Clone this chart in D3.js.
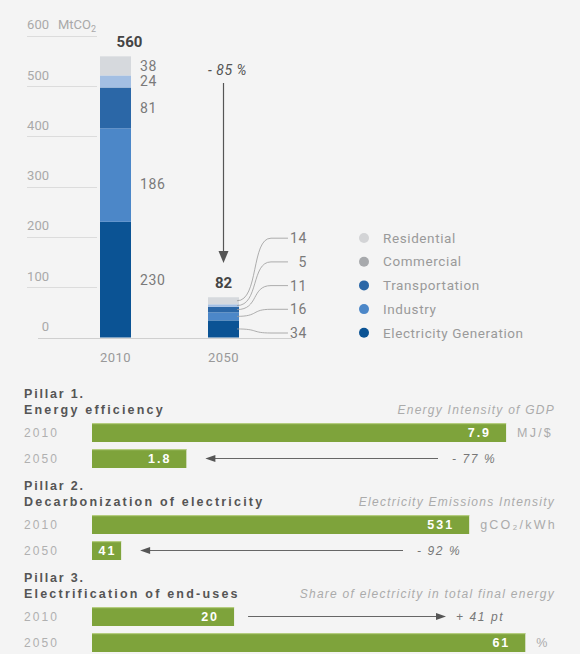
<!DOCTYPE html>
<html>
<head>
<meta charset="utf-8">
<script src="https://cdn.jsdelivr.net/npm/d3@7"></script>
<style>
  html, body { margin: 0; padding: 0; background: #ffffff; }
  svg { display: block; }
</style>
</head>
<body>
<div id="chart"></div>
<script>
// ---- Emissions by sector (MtCO2) ----
const years = ["2010", "2050"];
const sectors = ["Electricity Generation", "Industry", "Transportation", "Commercial", "Residential"];
const emissions2010 = [230, 186, 81, 24, 38];
const emissions2050 = [34, 16, 11, 5, 14];
const totals = [560, 82];
const yTicks = [0, 100, 200, 300, 400, 500, 600];
const reductionLabel = "- 85 %";

// ---- Pillars ----
const pillarTitles = ["Pillar 1.", "Pillar 2.", "Pillar 3."];
const pillarNames = ["Energy efficiency", "Decarbonization of electricity", "Electrification of end-uses"];
const pillarMetrics = ["Energy Intensity of GDP", "Electricity Emissions Intensity", "Share of electricity in total final energy"];
const pillarUnits = ["MJ/$", "gCO\u2082/kWh", "%"];
const pillar2010 = [7.9, 531, 20];
const pillar2050 = [1.8, 41, 61];
const pillarChange = ["- 77 %", "- 92 %", "+ 41 pt"];

const W = 580, H = 654;
const svg = d3.select("#chart").append("svg").attr("width", W).attr("height", H);

// background
svg.append("rect").attr("x", 0).attr("y", 0).attr("width", W).attr("height", H).attr("fill", "#f4f4f4");

const FONT = "Roboto, 'Liberation Sans', sans-serif";
const ARIAL = "'Liberation Sans', Arial, sans-serif";

// ================= Stacked emissions chart =================
const sectorColor = d3.scaleOrdinal().domain(sectors)
  .range(["#0b5394", "#4c87c8", "#2b67a7", "#a3bfe3", "#d6d9dd"]);
const legendColor = d3.scaleOrdinal().domain(sectors)
  .range(["#0b5394", "#4c87c8", "#2b67a7", "#a7a9ac", "#d3d4d6"]);

const y = d3.scaleLinear().domain([0, 600]).range([337.5, 35.7]);
const x = d3.scaleBand().domain(years).range([67.6, 271.4]).paddingInner(0.713).paddingOuter(0.3);

const stackG = svg.append("g");

// gridlines and tick labels
stackG.selectAll("line.grid").data(yTicks.filter(d => d > 0)).join("line")
  .attr("x1", 27).attr("x2", 97)
  .attr("y1", d => Math.round(y(d)) + 0.5).attr("y2", d => Math.round(y(d)) + 0.5)
  .attr("stroke", "#dcdcdc").attr("stroke-width", 1);
stackG.append("line")
  .attr("x1", 38).attr("x2", 292)
  .attr("y1", Math.round(y(0)) + 0.5).attr("y2", Math.round(y(0)) + 0.5)
  .attr("stroke", "#cfcfcf").attr("stroke-width", 1);
stackG.selectAll("text.tick").data(yTicks).join("text")
  .attr("x", 49).attr("y", d => y(d) - 11)
  .attr("dy", "0.35em").attr("text-anchor", "end")
  .attr("font-family", FONT).attr("font-size", 13).attr("fill", "#a9a9a9")
  .text(d => d);
const unit = stackG.append("text").attr("x", 58).attr("y", y(600) - 11).attr("dy", "0.35em")
  .attr("font-family", FONT).attr("font-size", 13).attr("fill", "#a9a9a9");
unit.append("tspan").text("MtCO");
unit.append("tspan").attr("font-size", 9).attr("dy", "0.35em").text("2");

// stacks
const series = [emissions2010, emissions2050];
series.forEach((vals, yi) => {
  let acc = 0;
  const segs = vals.map((v, i) => { const s = { sector: sectors[i], v, y0: acc, y1: acc + v }; acc += v; return s; });
  const g = stackG.append("g");
  g.selectAll("rect").data(segs).join("rect")
    .attr("x", x(years[yi])).attr("width", x.bandwidth())
    .attr("y", d => y(d.y1)).attr("height", d => y(d.y0) - y(d.y1))
    .attr("fill", d => sectorColor(d.sector));
  g.append("text")
    .attr("x", x(years[yi]) + x.bandwidth() / 2 + (yi === 0 ? 14 : 0))
    .attr("y", y(acc) - 15).attr("dy", "0.35em").attr("text-anchor", "middle")
    .attr("font-family", FONT).attr("font-weight", "bold").attr("font-size", 15).attr("fill", "#444")
    .text(totals[yi]);
  g.append("text")
    .attr("x", x(years[yi]) + x.bandwidth() / 2).attr("y", 357).attr("dy", "0.35em")
    .attr("text-anchor", "middle").attr("font-family", FONT).attr("font-size", 13)
    .attr("letter-spacing", 0.5).attr("fill", "#999")
    .text(years[yi]);

  if (yi === 0) {
    g.selectAll("text.val").data(segs).join("text")
      .attr("x", x(years[yi]) + x.bandwidth() + 9)
      .attr("y", d => {
        const mid = (y(d.y0) + y(d.y1)) / 2;
        return d.sector === "Industry" ? mid + 9 : mid;
      })
      .attr("dy", "0.35em")
      .attr("font-family", FONT).attr("font-size", 14).attr("letter-spacing", 0.6).attr("fill", "#7a7a7a")
      .text(d => d.v);
  } else {
    // labels fanned out beside the small stack, linked by leader lines
    const labelY = i => 333 - i * 23.7;
    const bx = x(years[yi]) + x.bandwidth() - 2;
    g.selectAll("path.leader").data(segs).join("path")
      .attr("d", (d, i) => {
        const sy = (y(d.y0) + y(d.y1)) / 2, ly = labelY(i);
        return `M${bx},${sy} C${bx + 22},${sy} ${bx + 14},${ly} ${bx + 34},${ly} L${bx + 51},${ly}`;
      })
      .attr("fill", "none").attr("stroke", "#9a9a9a").attr("stroke-width", 0.8);
    g.selectAll("text.val").data(segs).join("text")
      .attr("x", 307).attr("y", (d, i) => labelY(i)).attr("dy", "0.35em")
      .attr("text-anchor", "end")
      .attr("font-family", FONT).attr("font-size", 14).attr("letter-spacing", 0.6).attr("fill", "#7a7a7a")
      .text(d => d.v);
  }
});

// reduction arrow
const ax = x("2050") + x.bandwidth() / 2;
stackG.append("line").attr("x1", ax).attr("x2", ax).attr("y1", 83).attr("y2", 254)
  .attr("stroke", "#555").attr("stroke-width", 1.2);
stackG.append("path").attr("d", `M${ax - 5},${251} L${ax + 5},${251} L${ax},${263} Z`).attr("fill", "#555");
stackG.append("text").attr("x", ax + 4).attr("y", 70).attr("dy", "0.35em").attr("text-anchor", "middle")
  .attr("font-family", FONT).attr("font-style", "italic").attr("font-size", 14)
  .attr("letter-spacing", 0.5).attr("fill", "#555")
  .text(reductionLabel);

// legend
const leg = stackG.append("g");
const legendOrder = sectors.slice().reverse();
leg.selectAll("circle").data(legendOrder).join("circle")
  .attr("cx", 364).attr("cy", (d, i) => 238 + i * 23.7).attr("r", 5)
  .attr("fill", d => legendColor(d));
leg.selectAll("text").data(legendOrder).join("text")
  .attr("x", 383).attr("y", (d, i) => 238 + i * 23.7).attr("dy", "0.35em")
  .attr("font-family", FONT).attr("font-size", 13.5).attr("letter-spacing", 0.6).attr("fill", "#9a9a9a")
  .text(d => d);

// ================= Pillars =================
const green = "#7ea33b";
const barX0 = 92;
const axisMax = [8.28, 611, 61.1];
const changeX = [452, 417, 456];
const pillarG = svg.append("g");

pillarTitles.forEach((t, p) => {
  const y0 = 394 + p * 92;
  const xs = d3.scaleLinear().domain([0, axisMax[p]]).range([barX0, barX0 + 434]);
  const g = pillarG.append("g");

  g.append("text").attr("x", 24).attr("y", y0).attr("dy", "0.35em")
    .attr("font-family", ARIAL).attr("font-weight", "bold").attr("font-size", 12.5)
    .attr("letter-spacing", 1.8).attr("fill", "#555").text(t);
  g.append("text").attr("x", 24).attr("y", y0 + 16).attr("dy", "0.35em")
    .attr("font-family", ARIAL).attr("font-weight", "bold").attr("font-size", 12.5)
    .attr("letter-spacing", 2.2).attr("fill", "#555").text(pillarNames[p]);
  g.append("text").attr("x", 555).attr("y", y0 + 16).attr("dy", "0.35em").attr("text-anchor", "end")
    .attr("font-family", ARIAL).attr("font-style", "italic").attr("font-size", 12)
    .attr("letter-spacing", 1.25).attr("fill", "#ababab").text(pillarMetrics[p]);

  const rows = [
    { year: "2010", v: pillar2010[p], cy: y0 + 38.5 },
    { year: "2050", v: pillar2050[p], cy: y0 + 64.5 }
  ];
  rows.forEach(r => {
    g.append("text").attr("x", 24).attr("y", r.cy).attr("dy", "0.35em")
      .attr("font-family", ARIAL).attr("font-size", 12).attr("letter-spacing", 2.1)
      .attr("fill", "#b0b0b0").text(r.year);
    const w = xs(r.v) - barX0;
    g.append("rect").attr("x", barX0).attr("y", r.cy - 9.5).attr("width", w).attr("height", 19)
      .attr("fill", green);
    g.append("rect").attr("x", barX0).attr("y", r.cy - 9.5).attr("width", w).attr("height", 1.2)
      .attr("fill", "#b4cc7e");
    const small = w < 40;
    g.append("text")
      .attr("x", small ? barX0 + w / 2 + 1 : xs(r.v) - 15)
      .attr("y", r.cy).attr("dy", "0.36em").attr("text-anchor", small ? "middle" : "end")
      .attr("font-family", ARIAL).attr("font-weight", "bold").attr("font-size", 12.5)
      .attr("letter-spacing", 2).attr("fill", "#ffffff").text(r.v);
  });

  // unit beside the longest bar
  const longest = rows[0].v >= rows[1].v ? rows[0] : rows[1];
  g.append("text").attr("x", xs(longest.v) + 11).attr("y", longest.cy).attr("dy", "0.35em")
    .attr("font-family", ARIAL).attr("font-size", 12.5).attr("letter-spacing", 2.2)
    .attr("fill", "#ababab").text(pillarUnits[p]);

  // change arrow between the two values
  const grow = pillar2050[p] > pillar2010[p];
  const arrowY = grow ? rows[0].cy : rows[1].cy;
  let xa, xb;
  if (grow) { xa = xs(pillar2010[p]) + 14; xb = changeX[p] - 10; }
  else { xa = changeX[p] - 14; xb = xs(pillar2050[p]) + 19; }
  g.append("line").attr("x1", xa).attr("x2", xb + (grow ? -8 : 8))
    .attr("y1", arrowY).attr("y2", arrowY).attr("stroke", "#666").attr("stroke-width", 1);
  const dir = grow ? 1 : -1;
  g.append("path")
    .attr("d", `M${xb},${arrowY} L${xb - dir * 10},${arrowY - 3.5} L${xb - dir * 10},${arrowY + 3.5} Z`)
    .attr("fill", "#555");
  g.append("text").attr("x", changeX[p]).attr("y", arrowY).attr("dy", "0.35em")
    .attr("font-family", ARIAL).attr("font-style", "italic").attr("font-size", 12)
    .attr("letter-spacing", 1.6).attr("fill", "#777").text(pillarChange[p]);
});
</script>
</body>
</html>
